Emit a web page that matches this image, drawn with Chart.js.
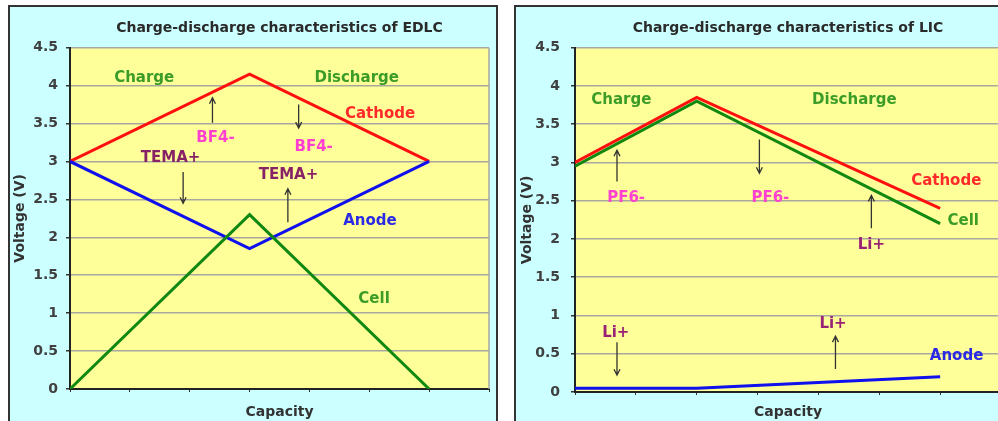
<!DOCTYPE html>
<html>
<head>
<meta charset="utf-8">
<script src="https://cdn.jsdelivr.net/npm/chart.js@4.4.0/dist/chart.umd.min.js"></script>
<style>
  body { margin: 0; width: 998px; height: 421px; overflow: hidden; background: #fff; position: relative; }
  .panel { position: absolute; top: 5px; height: 450px; background: #ccffff; border: 2px solid #333; box-sizing: border-box; }
  #panelEdlc { left: 8px; width: 490px; }
  #panelLic { left: 514px; width: 520px; }
  .box { position: absolute; top: 7px; height: 414px; }
  #boxEdlc { left: 10px; width: 485px; }
  #boxLic { left: 517px; width: 500px; }
</style>
</head>
<body>
<div class="panel" id="panelEdlc"></div>
<div class="panel" id="panelLic"></div>
<div class="box" id="boxEdlc"><canvas id="edlcChart"></canvas></div>
<div class="box" id="boxLic"><canvas id="licChart"></canvas></div>
<script>
// Voltage axis
const voltMin = 0;
const voltMax = 4.5;
const voltStep = 0.5;

// EDLC curves (capacity position -> voltage)
const edlcCapacity = [0, 3, 6];
const edlcCathode = [3.0, 4.15, 3.0];
const edlcAnode = [3.0, 1.85, 3.0];
const edlcCell = [0, 2.3, 0];

// LIC curves
const licCapacity = [0, 2, 6];
const licCathode = [3.0, 3.85, 2.4];
const licCell = [2.95, 3.8, 2.2];
const licAnode = [0.05, 0.05, 0.2];

// Text notes and ion arrows, in data units
const edlcNotes = [
    { text: 'Charge', x: 1.24, y: 4.1, color: '#3c9c28' },
    { text: 'Discharge', x: 4.79, y: 4.1, color: '#3c9c28' },
    { text: 'Cathode', x: 5.18, y: 3.63, color: '#ff2a2a' },
    { text: 'BF4-', x: 2.43, y: 3.31, color: '#ff40d0' },
    { text: 'BF4-', x: 4.07, y: 3.19, color: '#ff40d0' },
    { text: 'TEMA+', x: 1.68, y: 3.05, color: '#882266' },
    { text: 'TEMA+', x: 3.65, y: 2.82, color: '#882266' },
    { text: 'Anode', x: 5.01, y: 2.22, color: '#2a2ae6' },
    { text: 'Cell', x: 5.08, y: 1.19, color: '#3c9c28' }
];
const edlcArrows = [
    { x: 2.38, from: 3.51, to: 3.84 },
    { x: 3.82, from: 3.75, to: 3.44 },
    { x: 1.89, from: 2.86, to: 2.45 },
    { x: 3.64, from: 2.2, to: 2.64 }
];
const licNotes = [
    { text: 'Charge', x: 0.76, y: 3.82, color: '#3c9c28' },
    { text: 'Discharge', x: 4.59, y: 3.82, color: '#3c9c28' },
    { text: 'Cathode', x: 6.1, y: 2.76, color: '#ff2a2a' },
    { text: 'Cell', x: 6.38, y: 2.24, color: '#3c9c28' },
    { text: 'PF6-', x: 0.84, y: 2.54, color: '#ff40d0' },
    { text: 'PF6-', x: 3.21, y: 2.54, color: '#ff40d0' },
    { text: 'Li+', x: 4.87, y: 1.92, color: '#992277' },
    { text: 'Li+', x: 0.67, y: 0.77, color: '#992277' },
    { text: 'Li+', x: 4.24, y: 0.89, color: '#992277' },
    { text: 'Anode', x: 6.27, y: 0.47, color: '#2a2ae6' }
];
const licArrows = [
    { x: 0.69, from: 2.75, to: 3.16 },
    { x: 3.03, from: 3.3, to: 2.86 },
    { x: 4.87, from: 2.14, to: 2.57 },
    { x: 0.69, from: 0.65, to: 0.22 },
    { x: 4.28, from: 0.3, to: 0.73 }
];

function toPoints(xs, ys) {
    return xs.map(function(x, i) { return { x: x, y: ys[i] }; });
}

// Yellow plot area, right border, notes and arrows
const decorPlugin = {
    id: 'decor',
    beforeDraw: function(chart) {
        const ctx = chart.ctx;
        const a = chart.chartArea;
        ctx.save();
        ctx.fillStyle = '#ffff99';
        ctx.fillRect(a.left, a.top, a.right - a.left, a.bottom - a.top);
        ctx.restore();
    },
    afterDraw: function(chart, args, opts) {
        const ctx = chart.ctx;
        const a = chart.chartArea;
        const xs = chart.scales.x;
        const ys = chart.scales.y;
        ctx.save();
        ctx.strokeStyle = '#a8a8a0';
        ctx.lineWidth = 1.5;
        ctx.beginPath();
        ctx.moveTo(a.right, a.top);
        ctx.lineTo(a.right, a.bottom);
        ctx.stroke();

        ctx.strokeStyle = '#333';
        ctx.lineWidth = 1.3;
        (opts.arrows || []).forEach(function(ar) {
            const px = xs.getPixelForValue(ar.x);
            const p1 = ys.getPixelForValue(ar.from);
            const p2 = ys.getPixelForValue(ar.to);
            const dir = p2 > p1 ? 1 : -1;
            ctx.beginPath();
            ctx.moveTo(px, p1);
            ctx.lineTo(px, p2);
            ctx.moveTo(px - 3, p2 - dir * 6);
            ctx.lineTo(px, p2);
            ctx.lineTo(px + 3, p2 - dir * 6);
            ctx.stroke();
        });

        ctx.font = 'bold 15px "DejaVu Sans"';
        ctx.textAlign = 'center';
        ctx.textBaseline = 'middle';
        (opts.notes || []).forEach(function(n) {
            ctx.fillStyle = n.color;
            ctx.fillText(n.text, xs.getPixelForValue(n.x), ys.getPixelForValue(n.y));
        });
        ctx.restore();
    }
};

function makeChart(canvasId, titleText, datasets, notes, arrows, cfg) {
    const ctx = document.getElementById(canvasId).getContext('2d');
    return new Chart(ctx, {
        type: 'line',
        data: { datasets: datasets },
        plugins: [decorPlugin],
        options: {
            responsive: true,
            maintainAspectRatio: false,
            animation: false,
            layout: { padding: { left: 0, right: cfg.padRight, top: 0, bottom: 0 } },
            elements: {
                point: { radius: 0 },
                line: { borderWidth: 3, tension: 0 }
            },
            plugins: {
                legend: { display: false },
                tooltip: { enabled: false },
                title: {
                    display: true,
                    text: titleText,
                    fullSize: false,
                    color: '#2a2a2a',
                    font: { family: 'DejaVu Sans', size: 14, weight: 'bold', lineHeight: 1.2 },
                    padding: { top: 12.6, bottom: 11.3 }
                },
                decor: { notes: notes, arrows: arrows }
            },
            scales: {
                x: {
                    type: 'linear',
                    min: 0,
                    max: 7,
                    ticks: { stepSize: 1, display: false },
                    grid: { drawOnChartArea: false, drawTicks: true, tickLength: 3, tickColor: '#333' },
                    border: { display: true, color: '#222', width: 2 },
                    title: {
                        display: true,
                        text: 'Capacity',
                        color: '#333',
                        font: { family: 'DejaVu Sans', size: 14, weight: 'bold', lineHeight: 1.2 },
                        padding: 0
                    },
                    afterFit: function(scale) { scale.height = cfg.xHeight; }
                },
                y: {
                    min: voltMin,
                    max: voltMax,
                    ticks: {
                        stepSize: voltStep,
                        color: '#404040',
                        padding: cfg.tickPad,
                        font: { family: 'DejaVu Sans', size: 14, weight: 'bold' },
                        callback: function(value) { return String(value); }
                    },
                    grid: { color: '#a8a8a0', lineWidth: 1.5, tickLength: 4, tickColor: '#333' },
                    border: { display: true, color: '#222', width: 2 },
                    title: {
                        display: true,
                        text: 'Voltage (V)',
                        color: '#333',
                        font: { family: 'DejaVu Sans', size: 14, weight: 'bold', lineHeight: 1.2 },
                        padding: { top: 2, bottom: 0 }
                    },
                    afterFit: function(scale) { scale.width = cfg.yWidth; }
                }
            }
        }
    });
}

makeChart('edlcChart', 'Charge-discharge characteristics of EDLC', [
    { label: 'Cell', data: toPoints(edlcCapacity, edlcCell), borderColor: '#118811' },
    { label: 'Anode', data: toPoints(edlcCapacity, edlcAnode), borderColor: '#1010ee' },
    { label: 'Cathode', data: toPoints(edlcCapacity, edlcCathode), borderColor: '#ff1010' }
], edlcNotes, edlcArrows, { padRight: 6, xHeight: 32, yWidth: 60, tickPad: 8 });

makeChart('licChart', 'Charge-discharge characteristics of LIC', [
    { label: 'Anode', data: toPoints(licCapacity, licAnode), borderColor: '#1010ee' },
    { label: 'Cathode', data: toPoints(licCapacity, licCathode), borderColor: '#ff1010' },
    { label: 'Cell', data: toPoints(licCapacity, licCell), borderColor: '#118811' }
], licNotes, licArrows, { padRight: 16, xHeight: 29, yWidth: 58, tickPad: 11 });
</script>
</body>
</html>
